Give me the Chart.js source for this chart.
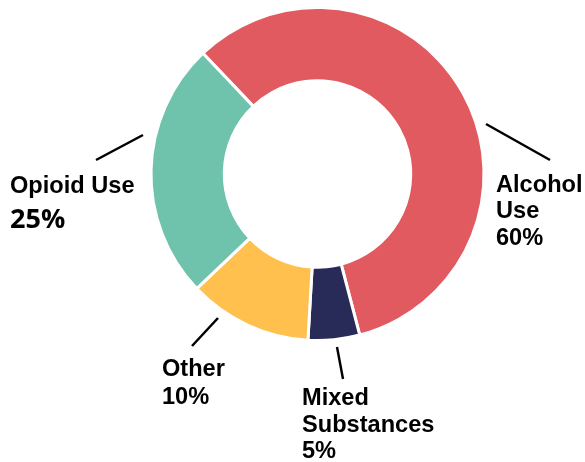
<!DOCTYPE html>
<html>
<head>
<meta charset="utf-8">
<script src="https://cdn.jsdelivr.net/npm/chart.js@4"></script>
<style>
  html, body { margin: 0; padding: 0; background: #fff; }
  #wrap { width: 585px; height: 462px; }
</style>
</head>
<body>
<div id="wrap"><canvas id="donutChart"></canvas></div>
<script>
// data
const categories = ["Alcohol Use", "Mixed Substances", "Other", "Opioid Use"];
const shares = [58, 5, 12, 25];
const shareLabels = ["60%", "5%", "10%", "25%"];
const colors = ["#E05A60", "#282A58", "#FFC04E", "#6FC2AB"];

// label text lines, leader lines (layout only)
const labelSpots = [
  { lines: ["Alcohol", "Use", shareLabels[0]], x: 496, y: [192, 218, 245], line: [486, 124, 550, 160] },
  { lines: ["Mixed", "Substances", shareLabels[1]], x: 302, y: [405, 432, 458], line: [337, 347, 343, 379] },
  { lines: ["Other", shareLabels[2]], x: 162, y: [376, 404], line: [192, 346, 218, 318] },
  { lines: ["Opioid Use"], x: 10, y: [193], line: [96, 160, 143, 135], big: shareLabels[3] },
];

const calloutPlugin = {
  id: "callouts",
  afterDraw(chart) {
    const ctx = chart.ctx;
    ctx.save();
    ctx.strokeStyle = "#000";
    ctx.lineWidth = 2.5;
    ctx.fillStyle = "#000";
    ctx.textBaseline = "alphabetic";
    ctx.textAlign = "left";
    for (let s of labelSpots) {
      ctx.beginPath();
      ctx.moveTo(s.line[0], s.line[1]);
      ctx.lineTo(s.line[2], s.line[3]);
      ctx.stroke();
      ctx.font = "bold 23.6px 'Liberation Sans', Arial, sans-serif";
      s.lines.forEach(function (t, i) {
        ctx.fillText(t, s.x, s.y[i]);
      });
      if (s.big) {
        ctx.font = "bold 27px 'Open Sans', sans-serif";
        ctx.fillText(s.big, s.x, 228);
      }
    }
    ctx.restore();
  },
};

new Chart(document.getElementById("donutChart"), {
  type: "doughnut",
  data: {
    labels: categories,
    datasets: [
      {
        data: shares,
        backgroundColor: colors,
        borderColor: "#fff",
        borderWidth: 3,
        hoverOffset: 0,
      },
    ],
  },
  options: {
    responsive: true,
    maintainAspectRatio: false,
    animation: false,
    cutout: "56%",
    rotation: -43.5,
    layout: { padding: { left: 149.5, right: 99.5, top: 6, bottom: 120 } },
    plugins: {
      legend: { display: false },
      tooltip: { enabled: false },
    },
  },
  plugins: [calloutPlugin],
});
</script>
</body>
</html>
